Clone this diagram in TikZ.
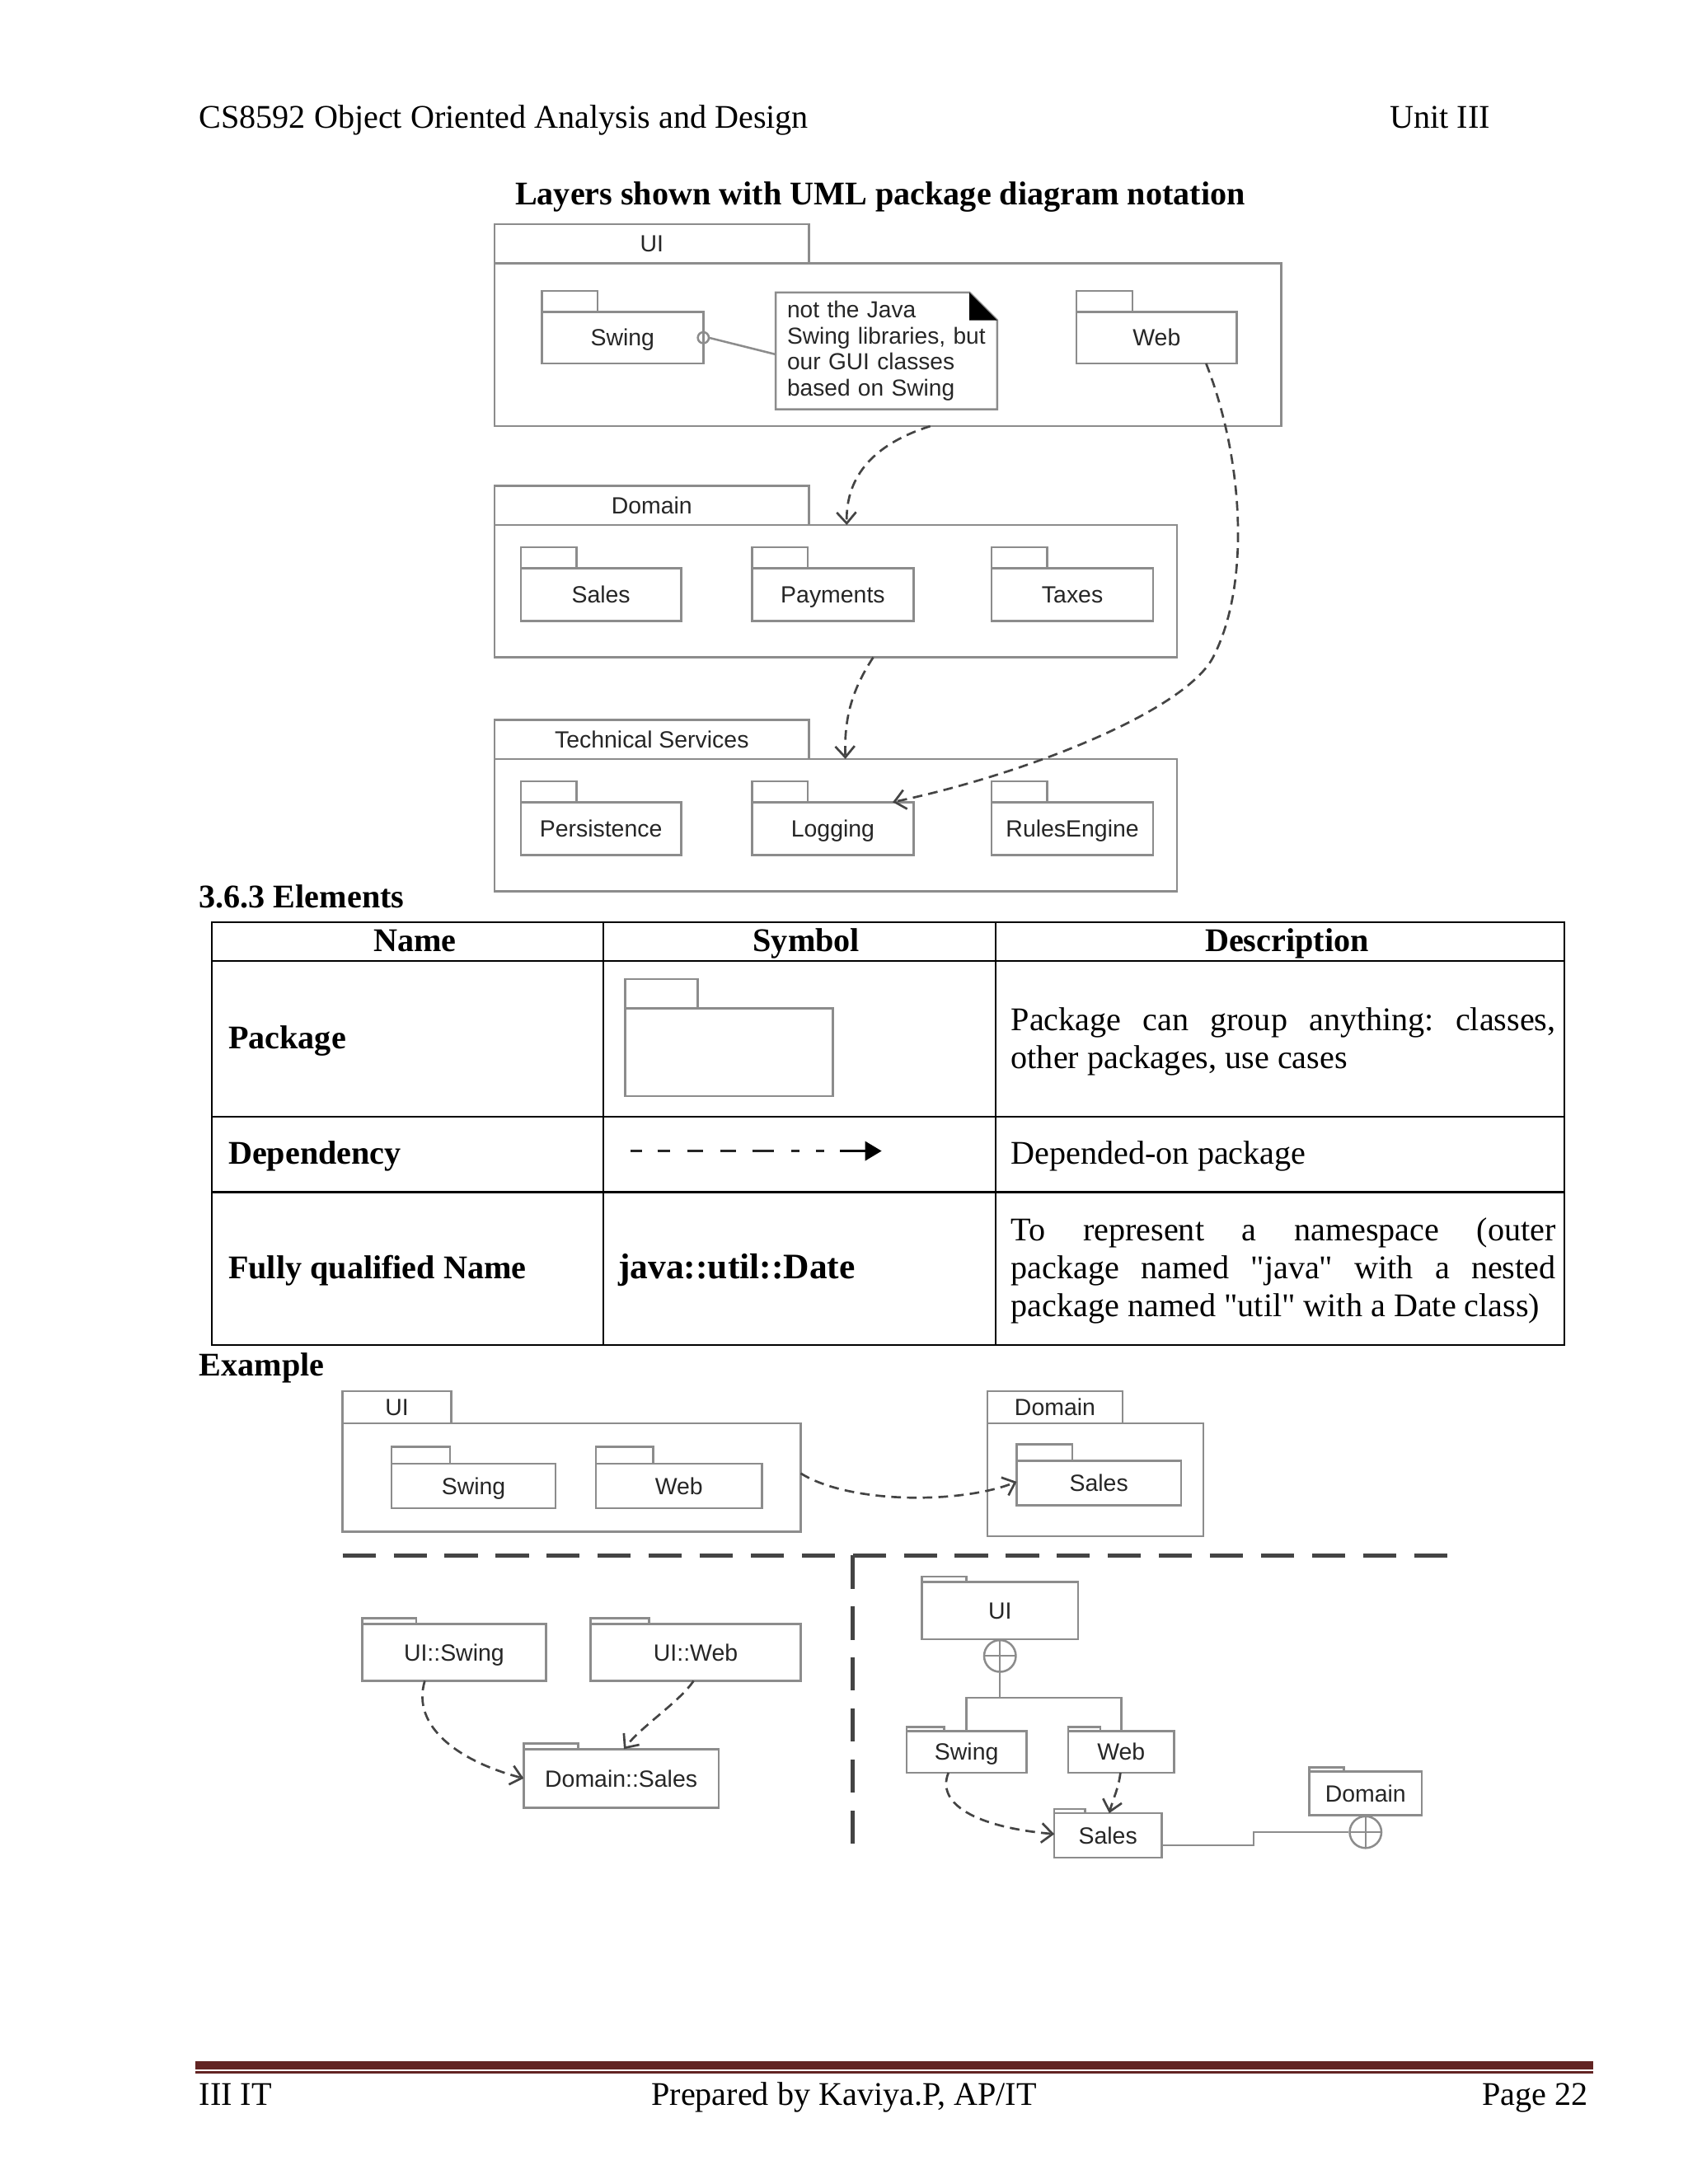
\documentclass[tikz,border=0pt]{standalone}
\usepackage{fontspec}
\setmainfont{Liberation Serif}
\setsansfont{Liberation Sans}
\usepackage{tikz}
\usetikzlibrary{arrows.meta}
\usetikzlibrary{positioning}
\usetikzlibrary{fit}
\usetikzlibrary{calc}
\definecolor{pkgline}{HTML}{8C8C8C}
\definecolor{pkgtext}{HTML}{262626}
\definecolor{depline}{HTML}{444444}
\definecolor{footbar}{HTML}{622423}
\tikzstyle{txt} = [inner sep=0pt, outer sep=0pt, font=\fontsize{12}{13.8}\selectfont]
\tikzstyle{btxt} = [txt, font=\fontsize{12}{13.8}\selectfont\bfseries]
\tikzstyle{desc} = [txt, anchor=base west, text width=197.5pt, align=justify]
\tikzstyle{pkg} = [rectangle, draw=pkgline, line width=0.75pt, inner sep=0pt, outer sep=0pt]
\tikzstyle{pkglabel} = [inner sep=0pt, text=pkgtext, font=\sffamily\fontsize{8.5}{9.5}\selectfont,
text height=6.1pt, text depth=0pt]
\tikzstyle{nest} = [circle, draw=pkgline, line width=0.75pt, minimum size=11.5pt, inner sep=0pt,
path picture={\draw[pkgline, line width=0.6pt] (path picture bounding box.north) -- (path picture bounding box.south)
(path picture bounding box.west) -- (path picture bounding box.east);}]
\tikzstyle{dep} = [draw=depline, line width=0.8pt, dash pattern=on 3.5pt off 2.2pt,
-{Straight Barb[length=4pt,width=7pt]}]
\tikzstyle{link} = [draw=pkgline, line width=0.75pt]
\tikzstyle{sepline} = [draw=depline, line width=1.5pt, dash pattern=on 12pt off 6.5pt]

\begin{document}
\frenchspacing
\begin{tikzpicture}[x=0.505pt, y=-0.505pt]
\fill[white] (0,0) rectangle (1212,1568.3);
\useasboundingbox (0,0) rectangle (1212,1568.3);

% page header
\node[txt, anchor=base west] (course) at (143,92) {CS8592 Object Oriented Analysis and Design};
\node[txt, anchor=base east] (unit) at (1070,92) {Unit III};
\node[btxt, anchor=base] (title) at (632,147) {Layers shown with UML package diagram notation};

% layers
\node[pkg, fit={(355,161) (581,189)}, label={[pkglabel]center:UI}] (uitab) {};
\node[pkg, fit={(355,189) (920,306)}] (ui) {};
\node[pkg, fit={(389,209) (429,224)}] (swingtab) {};
\node[pkg, fit={(389,224) (505,261)}, label={[pkglabel]center:Swing}] (swing) {};
\node[anchor=north west, minimum height=42.4pt, text width=72pt, inner xsep=4.15pt, inner ysep=0pt,
outer sep=0pt, align=left, text=pkgtext, font=\sffamily\fontsize{8.4}{9.5}\selectfont]
(note) at (557,210) {not the Java\\Swing libraries, but\\our GUI classes\\based on Swing};
\draw[link] (note.north west) -- ($(note.north east)+(-20,0)$) -- ($(note.north east)+(0,20)$)
-- (note.south east) -- (note.south west) -- cycle;
\fill[black] ($(note.north east)+(-20,0)$) -- ($(note.north east)+(-20,20)$) -- ($(note.north east)+(0,20)$) -- cycle;
\node[pkg, fit={(773,209) (813,224)}] (webtab) {};
\node[pkg, fit={(773,224) (888,261)}, label={[pkglabel]center:Web}] (web) {};
\draw[link] (swing.east) circle[radius=2pt];
\draw[link] ($(swing.east)+(4,0)$) -- ($(note.west)+(0,2.5)$);

\node[pkg, fit={(355,349) (581,377)}, label={[pkglabel]center:Domain}] (domtab) {};
\node[pkg, fit={(355,377) (845,472)}] (dom) {};
\node[pkg, fit={(374,393) (414,408)}] (salestab) {};
\node[pkg, fit={(374,408) (489,446)}, label={[pkglabel]center:Sales}] (sales) {};
\node[pkg, fit={(540,393) (580,408)}] (paytab) {};
\node[pkg, fit={(540,408) (656,446)}, label={[pkglabel]center:Payments}] (pay) {};
\node[pkg, fit={(712,393) (752,408)}] (taxtab) {};
\node[pkg, fit={(712,408) (828,446)}, label={[pkglabel]center:Taxes}] (tax) {};

\node[pkg, fit={(355,517) (581,545)}, label={[pkglabel]center:Technical Services}] (tstab) {};
\node[pkg, fit={(355,545) (845,640)}] (ts) {};
\node[pkg, fit={(374,561) (414,576)}] (perstab) {};
\node[pkg, fit={(374,576) (489,614)}, label={[pkglabel]center:Persistence}] (pers) {};
\node[pkg, fit={(540,561) (580,576)}] (logtab) {};
\node[pkg, fit={(540,576) (656,614)}, label={[pkglabel]center:Logging}] (log) {};
\node[pkg, fit={(712,561) (752,576)}] (rulestab) {};
\node[pkg, fit={(712,576) (828,614)}, label={[pkglabel]center:RulesEngine}] (rules) {};

\draw[dep] ($(ui.south)+(30.5,0)$) .. controls (630,318) and (607,340) .. ($(dom.north west)+(253,0)$);
\draw[dep] ($(dom.south)+(27,0)$) .. controls (612,495) and (606,515) .. ($(ts.north west)+(252,0)$);
\draw[dep] ($(web.south)+(35.5,0)$) .. controls (893,330) and (898,420) .. (871,472)
.. controls (851,510) and (740,555) .. ($(log.north east)+(-15,0)$);

% elements table
\node[btxt, anchor=base west] (elements) at (143,652) {3.6.3 Elements};
\draw[line width=0.65pt] (152,662) rectangle (1123,966);
\foreach \y in {690,802,856}
\draw[line width=0.65pt] (152,\y) -- (1123,\y);
\foreach \x in {433,715}
\draw[line width=0.65pt] (\x,662) -- (\x,966);
\node[btxt, anchor=base] (namehead) at (298,683) {Name};
\node[btxt, anchor=base] (symhead) at (579,683) {Symbol};
\node[btxt, anchor=base] (deschead) at (924,683) {Description};

\node[btxt, anchor=base west] (pkgname) at (164,753) {Package};
\draw[link] (449,703) rectangle (501,724);
\draw[link] (449,724) rectangle (598,787);
\node[desc] (pkgdesc) at (726,740) {Package can group anything: classes,\linebreak other packages, use cases};

\node[btxt, anchor=base west] (depname) at (164,836) {Dependency};
\draw[draw=black!85, line width=0.8pt, dash pattern=on 3.9pt off 5.7pt on 4.7pt off 6.1pt on 5.9pt off 6pt
on 5.7pt off 6pt on 7.8pt off 6.3pt on 3pt off 6pt on 3pt off 6pt] (453,826.5) -- (603,826.5);
\draw[black, line width=0.8pt, -{Triangle[length=6pt,width=7pt]}] (603,826.5) -- (633,826.5);
\node[desc] (depdesc) at (726,836) {Depended-on package};

\node[btxt, anchor=base west] (fqname) at (164,918) {Fully qualified Name};
\node[txt, font=\fontsize{13}{15}\selectfont\bfseries, anchor=base west] (fqsym) at (444,918) {java::util::Date};
\node[desc] (fqdesc) at (726,891) {To represent a namespace (outer\linebreak package named \textquotedbl java\textquotedbl{} with a nested\linebreak package named \textquotedbl util\textquotedbl{} with a Date class)};

% example
\node[btxt, anchor=base west] (example) at (143,988) {Example};
\node[pkg, fit={(246,999) (324,1022)}, label={[pkglabel]center:UI}] (uietab) {};
\node[pkg, fit={(246,1022) (575,1100)}] (uie) {};
\node[pkg, fit={(281,1039) (323,1051)}] (swingetab) {};
\node[pkg, fit={(281,1051) (399,1083)}, label={[pkglabel]center:Swing}] (swinge) {};
\node[pkg, fit={(428,1039) (469,1051)}] (webetab) {};
\node[pkg, fit={(428,1051) (547,1083)}, label={[pkglabel]center:Web}] (webe) {};
\node[pkg, fit={(709,999) (806,1022)}, label={[pkglabel]center:Domain}] (dometab) {};
\node[pkg, fit={(709,1022) (864,1103)}] (dome) {};
\node[pkg, fit={(730,1037) (770,1049)}] (salesetab) {};
\node[pkg, fit={(730,1049) (848,1081)}, label={[pkglabel]center:Sales}] (salese) {};
\draw[dep] ($(uie.east)+(0,-3)$) .. controls (610,1080) and (690,1080) .. ($(salese.west)+(0,-1)$);

\draw[sepline] (246,1117) -- (1040,1117);
\draw[sepline] (612,1117) -- (612,1327);

\node[pkg, fit={(260,1162) (299,1166)}] (uiswingtab) {};
\node[pkg, fit={(260,1166) (392,1207)}, label={[pkglabel]center:UI::Swing}] (uiswing) {};
\node[pkg, fit={(424,1162) (466,1166)}] (uiwebtab) {};
\node[pkg, fit={(424,1166) (575,1207)}, label={[pkglabel]center:UI::Web}] (uiweb) {};
\node[pkg, fit={(376,1252) (415,1256)}] (domsalestab) {};
\node[pkg, fit={(376,1256) (516,1298)}, label={[pkglabel]center:Domain::Sales}] (domsales) {};
\draw[dep] ($(uiswing.south)+(-21,0)$) .. controls (295,1240) and (330,1265) .. ($(domsales.west)+(0,-0)$);
\draw[dep] ($(uiweb.south)+(-1.5,0)$) .. controls (488,1222) and (460,1240) .. ($(domsales.north)+(2,0)$);

\node[pkg, fit={(662,1132) (694,1136)}] (uirtab) {};
\node[pkg, fit={(662,1136) (774,1177)}, label={[pkglabel]center:UI}] (uir) {};
\node[nest, below=0pt of uir] (uinest) {};
\node[pkg, fit={(651,1240) (678,1243)}] (swingrtab) {};
\node[pkg, fit={(651,1243) (737,1273)}, label={[pkglabel]center:Swing}] (swingr) {};
\node[pkg, fit={(767,1240) (790,1243)}] (webrtab) {};
\node[pkg, fit={(767,1243) (843,1273)}, label={[pkglabel]center:Web}] (webr) {};
\coordinate (fork) at (718,1219);
\draw[link] (uinest.south) -- (fork);
\draw[link] (swingr.north) |- (fork) -| (webr.north);
\node[pkg, fit={(757,1299) (779,1302)}] (salesrtab) {};
\node[pkg, fit={(757,1302) (834,1334)}, label={[pkglabel]center:Sales}] (salesr) {};
\node[pkg, fit={(940,1269) (965,1272)}] (domrtab) {};
\node[pkg, fit={(940,1272) (1021,1303.5)}, label={[pkglabel]center:Domain}] (domr) {};
\node[nest, below=0pt of domr] (domnest) {};
\draw[link] ($(salesr.south east)+(0,-9)$) -- ++(66,0) |- (domnest.west);
\draw[dep] ($(swingr.south)+(-13,0)$) .. controls (672,1295) and (700,1312) .. ($(salesr.west)+(0,-1)$);
\draw[dep] ($(webr.south)+(-0.5,0)$) .. controls (803,1285) and (799,1292) .. ($(salesr.north)+(1,0)$);

% page footer
\fill[footbar] (140,1480) rectangle (1144,1486);
\fill[footbar] (140,1487.2) rectangle (1144,1488.8);
\node[txt, anchor=base west] (classname) at (143,1512) {III IT};
\node[txt, anchor=base] (author) at (606,1512) {Prepared by Kaviya.P, AP/IT};
\node[txt, anchor=base east] (page) at (1140,1512) {Page 22};
\end{tikzpicture}
\end{document}
